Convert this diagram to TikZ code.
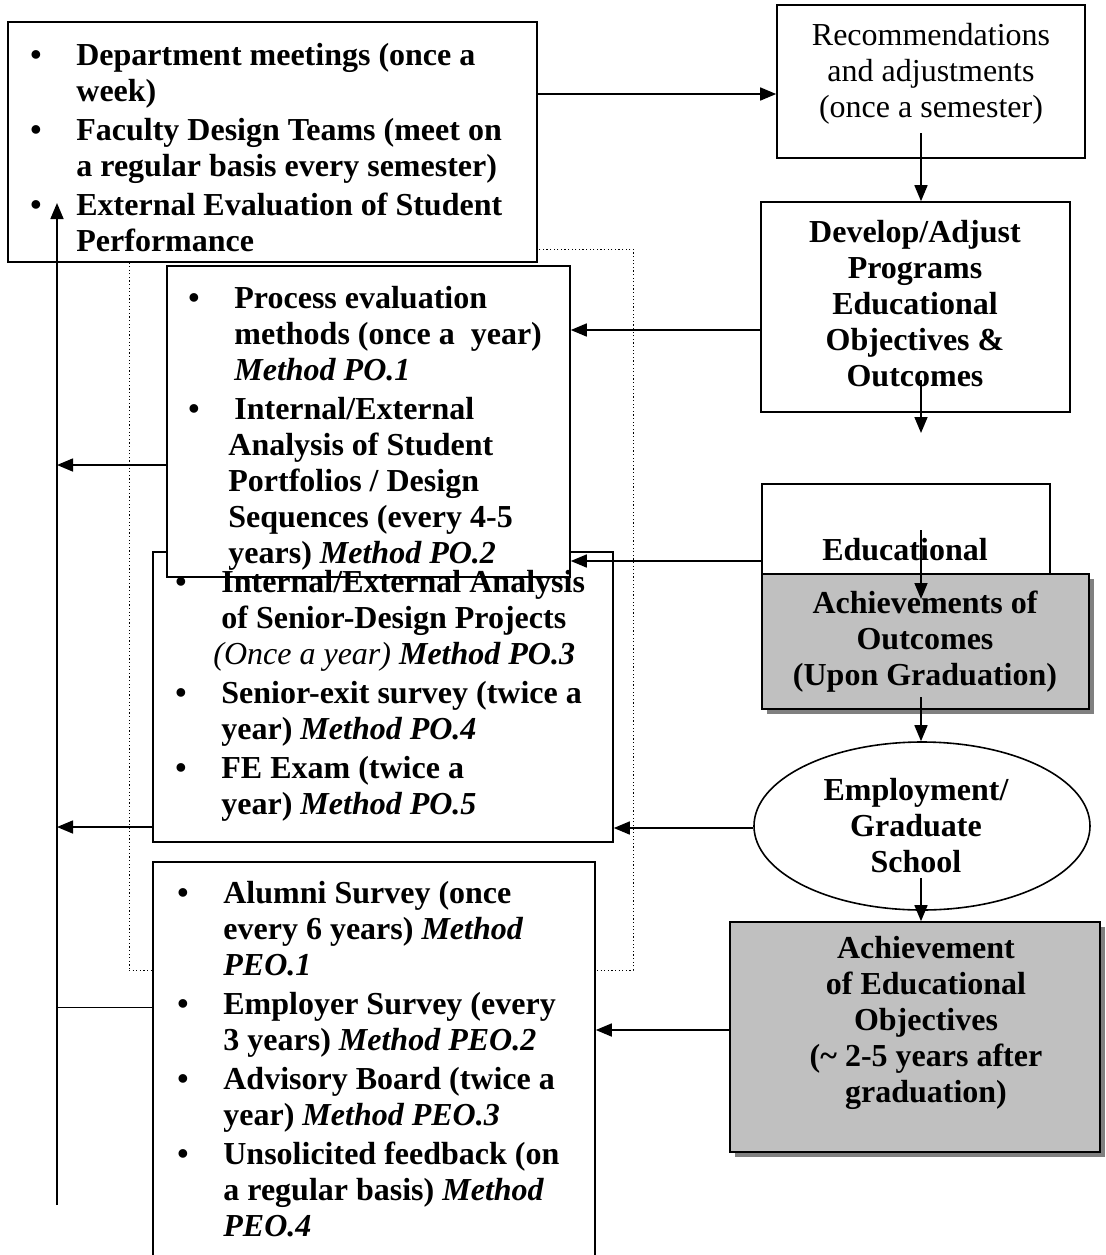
\documentclass[tikz,border=0pt]{standalone}
\usepackage{fontspec}
\setmainfont{Liberation Serif}
\usetikzlibrary{arrows.meta, shapes.geometric, shadows, positioning}
\definecolor{boxgray}{HTML}{C0C0C0}
\definecolor{shadowgray}{HTML}{808080}
\newcommand{\bul}{\makebox[23pt][l]{\textbullet}}
\newcommand{\ind}{\hspace*{23pt}}
\tikzset{
    box/.style={draw, line width=0.8pt, fill=white, inner sep=0pt}, % plain white boxes
    greybox/.style={box, fill=boxgray, general shadow={shadow xshift=2.5pt, shadow yshift=-2.5pt, fill=shadowgray}}, % shaded result boxes
    txt/.style={inner sep=0pt, font=\fontsize{16}{18}\selectfont\bfseries}, % bold box texts
    arr/.style={line width=0.8pt, -{Triangle[length=8pt, width=6.5pt]}}, % makes the edges directed
}

\begin{document}
\begin{tikzpicture}[x=0.5pt, y=-0.5pt]
        \useasboundingbox (0,0) rectangle (1105,1255);

        % Nodes
        \node[draw, line width=0.5pt, dash pattern=on 0.6pt off 1.2pt, minimum width=252pt, minimum height=360.5pt, inner sep=0pt] (group) at (381,609.5) {};
        \node[box, minimum width=264.5pt, minimum height=120pt] (meet) at (272.5,142) {};
        \node[box, minimum width=154pt, minimum height=76.5pt] (recom) at (931,81.5) {};
        \node[box, minimum width=154.5pt, minimum height=105pt] (dev) at (915.5,307) {};
        \node[box, minimum width=230pt, minimum height=145pt] (senior) at (383,697) {};
        \node[box, minimum width=201.5pt, minimum height=155.5pt] (proc) at (368.5,421.5) {};
        \node[box, minimum width=221pt, minimum height=201.5pt] (alumni) at (374,1063.5) {};
        \node[box, minimum width=144pt, minimum height=45pt] (edu) at (906,529) {};
        \node[greybox, minimum width=163.5pt, minimum height=67.5pt] (achout) at (925.5,641.5) {};
        \node[box, ellipse, minimum width=168pt, minimum height=84pt] (employ) at (922,826) {};
        \node[greybox, minimum width=185pt, minimum height=115pt] (achobj) at (915,1037) {};

        % texts
        \node[txt, anchor=base west] (meettxt) at (30,65) {
            \begin{tabular}[t]{@{}l@{}}
                \bul Department meetings (once a\\
                \ind week)\\[1.5pt]
                \bul Faculty Design Teams (meet on\\
                \ind a regular basis every semester)\\[1.5pt]
                \bul External Evaluation of Student\\
                \ind Performance
            \end{tabular}
        };
        \node[txt, anchor=base, font=\fontsize{16}{18}\selectfont] (recomtxt) at (931,45) {
            \begin{tabular}[t]{@{}c@{}}
                Recommendations\\
                and adjustments\\
                (once a semester)
            \end{tabular}
        };
        \node[txt, anchor=base] (devtxt) at (915,242) {
            \begin{tabular}[t]{@{}c@{}}
                Develop/Adjust\\
                Programs\\
                Educational\\
                Objectives \&\\
                Outcomes
            \end{tabular}
        };
        \node[txt, anchor=base west] (proctxt) at (188,308) {
            \begin{tabular}[t]{@{}l@{}}
                \bul Process evaluation\\
                \ind methods (once a\ \ year)\\
                \ind \textit{Method PO.1}\\[1.5pt]
                \bul Internal/External\\
                \hspace*{20pt}Analysis of Student\\
                \hspace*{20pt}Portfolios / Design\\
                \hspace*{20pt}Sequences (every 4-5\\
                \hspace*{20pt}years) \textit{Method PO.2}
            \end{tabular}
        };
        \node[txt, anchor=base west] (seniortxt) at (175,592) {
            \begin{tabular}[t]{@{}l@{}}
                \bul Internal/External Analysis\\
                \ind of Senior-Design Projects\\
                \hspace*{19pt}\textit{\mdseries (Once a year)} \textit{Method PO.3}\\[1.5pt]
                \bul Senior-exit survey (twice a\\
                \ind year) \textit{Method PO.4}\\[1.5pt]
                \bul FE Exam (twice a\\
                \ind year) \textit{Method PO.5}
            \end{tabular}
        };
        % the process box lies over the top of the senior box
        \node[box, minimum width=201.5pt, minimum height=155.5pt, fill=none] at (proc) {};
        \node[txt, anchor=base west] (alumnitxt) at (177,903) {
            \begin{tabular}[t]{@{}l@{}}
                \bul Alumni Survey (once\\
                \ind every 6 years) \textit{Method}\\
                \ind \textit{PEO.1}\\[1.5pt]
                \bul Employer Survey (every\\
                \ind 3 years) \textit{Method PEO.2}\\[1.5pt]
                \bul Advisory Board (twice a\\
                \ind year) \textit{Method PEO.3}\\[1.5pt]
                \bul Unsolicited feedback (on\\
                \ind a regular basis) \textit{Method}\\
                \ind \textit{PEO.4}
            \end{tabular}
        };
        \node[txt, anchor=base] (edutxt) at (905,560) {Educational};
        \node[txt, anchor=base] (achouttxt) at (925,613) {
            \begin{tabular}[t]{@{}c@{}}
                Achievements of\\
                Outcomes\\
                (Upon Graduation)
            \end{tabular}
        };
        \node[txt, anchor=base] (employtxt) at (916,800) {
            \begin{tabular}[t]{@{}c@{}}
                Employment/\\
                Graduate\\
                School
            \end{tabular}
        };
        \node[txt, anchor=base] (achobjtxt) at (926,958) {
            \begin{tabular}[t]{@{}c@{}}
                Achievement\\
                of Educational\\
                Objectives\\
                (\textasciitilde{} 2-5 years after\\
                graduation)
            \end{tabular}
        };

        % free ends
        \coordinate (recS) at (921,133);
        \coordinate (devS) at (921,380);
        \coordinate (devE) at (921,433);
        \coordinate (eduS) at (921,530);
        \coordinate (eduE) at (921,599);
        \coordinate (achS) at (921,697);
        \coordinate (empS) at (921,878);
        \coordinate (fbtop) at (57,203);
        \coordinate (fbbot) at (57,1205);

        % edges
        \draw[arr] (meet.east |- 0,94) -- (recom.west |- 0,94);
        \draw[arr] (recS) -- (dev.north -| recS);
        \draw[arr] (devS) -- (devE);
        \draw[arr] (dev.west |- 0,330) -- (proc.east |- 0,330);
        \draw[arr] (edu.west |- 0,561) -- (proc.east |- 0,561);
        \draw[arr] (eduS) -- (eduE);
        \draw[arr] (achS) -- (employ.north -| achS);
        \draw[arr] (employ.west |- 0,828) -- (senior.east |- 0,828);
        \draw[arr] (empS) -- (achobj.north -| empS);
        \draw[arr] (achobj.west |- 0,1030) -- (alumni.east |- 0,1030);
        \draw[arr] (proc.west |- 0,465) -- (fbtop |- 0,465);
        \draw[arr] (senior.west |- 0,827) -- (fbtop |- 0,827);
        \draw[line width=0.5pt] (fbtop |- 0,1007) -- (alumni.west |- 0,1007);
        \draw[arr] (fbbot) -- (fbtop);
\end{tikzpicture}
\end{document}
